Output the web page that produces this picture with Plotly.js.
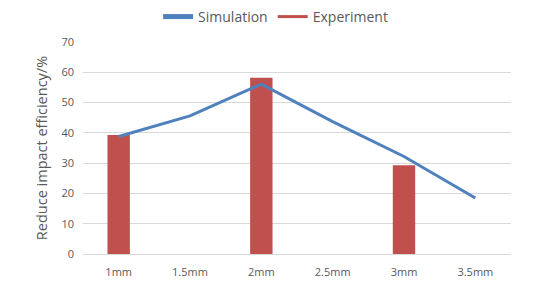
<!DOCTYPE html>
<html>
<head>
<meta charset="utf-8">
<script src="https://cdn.plot.ly/plotly-3.0.1.min.js"></script>
<style>html,body{margin:0;padding:0;background:#fff;}#chart{width:538px;height:288px;}</style>
</head>
<body>
<div id="chart"></div>
<script>
const categories = ["1mm", "1.5mm", "2mm", "2.5mm", "3mm", "3.5mm"];
const simulation = [38.8, 45.6, 56.1, 43.7, 32.2, 18.5];
const experimentCats = ["1mm", "2mm", "3mm"];
const experiment = [39.3, 58.2, 29.3];
const yTicks = [0, 10, 20, 30, 40, 50, 60, 70];

const blue = "#4F81BD";
const red = "#C0504D";
const gray = "#595959";
const fontFam = "Open Sans, Noto Sans, sans-serif";

const traces = [
  {type: "bar", x: experimentCats, y: experiment, marker: {color: red}, showlegend: false, hoverinfo: "skip"},
  {type: "scatter", mode: "lines", x: categories, y: simulation, line: {color: blue, width: 3}, showlegend: false},
  {type: "scatter", mode: "lines", x: [null], y: [null], name: "Simulation", line: {color: blue, width: 5}},
  {type: "scatter", mode: "lines", x: [null], y: [null], name: "Experiment", line: {color: red, width: 3}}
];

const layout = {
  width: 538, height: 288,
  margin: {l: 83, r: 27, t: 42, b: 34, autoexpand: false},
  paper_bgcolor: "#fff", plot_bgcolor: "#fff",
  font: {family: fontFam, color: gray, size: 11},
  bargap: 0.686,
  xaxis: {type: "category", categoryorder: "array", categoryarray: categories,
          range: [-0.5, 5.5], showgrid: false, showline: true, linecolor: "#D9D9D9", linewidth: 1,
          ticks: "", tickfont: {size: 11, color: gray}, ticklabelstandoff: 8, fixedrange: true},
  yaxis: {range: [0, 70], tickvals: yTicks, showgrid: true, gridcolor: "#D9D9D9", gridwidth: 1,
          zeroline: false, showline: false, ticks: "", tickfont: {size: 11, color: gray},
          ticklabelstandoff: 8,
          title: {text: "Reduce impact efficiency/%", font: {size: 14.5, color: gray}, standoff: 10}},
  legend: {orientation: "h", x: 0.45, xanchor: "center", y: 1.118, yanchor: "middle",
           font: {size: 14, color: gray}, itemwidth: 30, bgcolor: "rgba(0,0,0,0)"},
  showlegend: true
};

Plotly.newPlot("chart", traces, layout, {displayModeBar: false, staticPlot: true});
</script>
</body>
</html>
